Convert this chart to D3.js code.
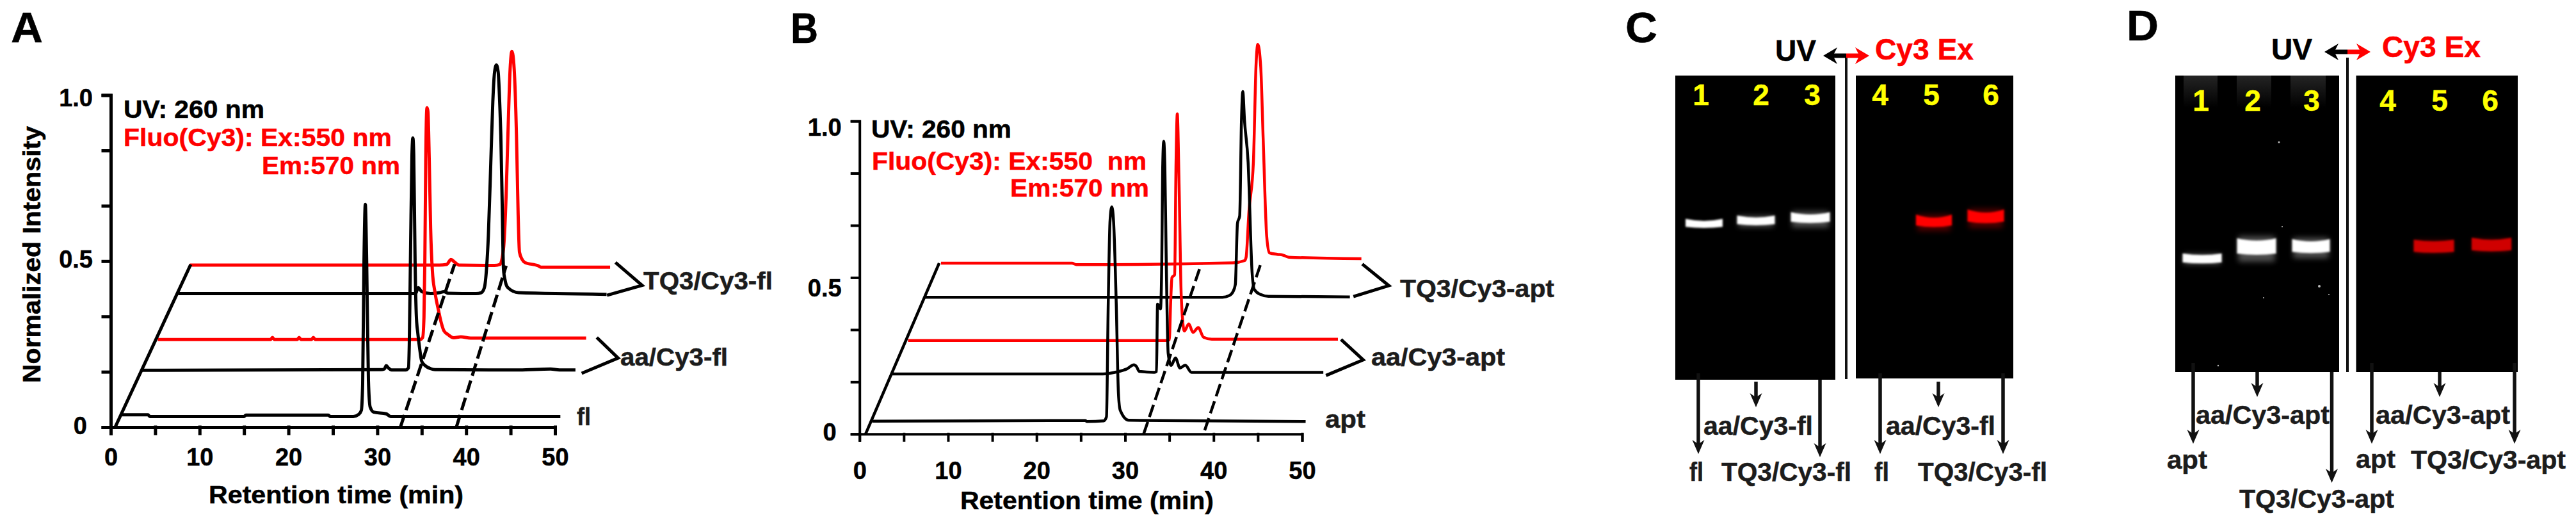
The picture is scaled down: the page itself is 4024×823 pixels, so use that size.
<!DOCTYPE html>
<html>
<head>
<meta charset="utf-8">
<script src="https://cdn.jsdelivr.net/npm/d3@7"></script>
<style>
html, body { margin: 0; padding: 0; background: #fff; }
text { font-family: "Liberation Sans", Arial, sans-serif; font-weight: bold; white-space: pre; stroke: currentColor; stroke-width: .5px; }
</style>
</head>
<body>
<svg id="figure" width="4024" height="823"></svg>
<script>
// chromatograms: [retention time (min), normalized intensity]
var aFl = [[1.06,.037],[4.2,.037],[4.4,.032],[15,.032],[15.2,.036],[24.5,.036],[24.7,.032],[27.3,.032],[27.9,.038],[28.2,.05],[28.35,.13],[28.5,.5],[28.65,.671],[28.8,.5],[29,.14],[29.2,.06],[29.6,.045],[31,.04],[31.5,.032],[50.6,.032]];
var aAaBlack = [[3.5,.171],[30.4,.173],[30.8,.175],[31,.185],[31.3,.177],[31.6,.172],[33.2,.172],[33.5,.178],[33.6,.25],[33.75,.55],[33.9,.82],[34,.871],[34.1,.82],[34.25,.5],[34.4,.33],[34.55,.285],[34.75,.24],[35,.198],[35.4,.185],[36,.176],[36.5,.173],[46,.172],[49.5,.175],[50.5,.172],[52.3,.172]];
var aAaRed = [[5.3,.264],[18,.264],[18.2,.27],[18.4,.264],[21,.264],[21.2,.27],[21.4,.264],[22.6,.264],[22.8,.27],[23,.264],[34.8,.264],[35.1,.27],[35.25,.33],[35.35,.5],[35.45,.8],[35.55,.95],[35.6,.962],[35.7,.95],[35.85,.8],[36,.6],[36.2,.47],[36.5,.405],[36.9,.35],[37.2,.314],[37.5,.29],[37.95,.279],[38.6,.269],[39.4,.272],[40.5,.268],[53.5,.268]];
var aTqBlack = [[7.6,.402],[34.3,.402],[34.6,.42],[35,.408],[36,.402],[37,.405],[37.5,.408],[38,.403],[41.1,.402],[41.7,.405],[42.05,.42],[42.3,.48],[42.5,.577],[42.8,.82],[43,.98],[43.2,1.07],[43.4,1.091],[43.6,1.07],[43.8,.96],[43.9,.88],[44.05,.68],[44.2,.476],[44.4,.44],[44.7,.42],[45.9,.405],[55.8,.4]];
var aTqRed = [[8.9,.488],[37,.488],[37.8,.49],[38.3,.505],[38.7,.497],[39.2,.488],[43.2,.487],[43.8,.49],[44.2,.537],[44.5,.7],[44.7,.881],[44.95,1.08],[45.15,1.132],[45.4,1.08],[45.66,.881],[45.85,.64],[46,.527],[46.3,.505],[46.6,.496],[48.1,.486],[48.4,.482],[56.2,.482]];

var bApt = [[1.43,.041],[25.5,.043],[25.7,.04],[27.6,.042],[27.9,.055],[28.1,.42],[28.3,.68],[28.5,.726],[28.7,.68],[29,.42],[29.25,.13],[29.45,.076],[30.4,.044],[50.4,.04]];
var bAaBlack = [[3.6,.192],[27.5,.192],[29,.198],[30.2,.208],[31,.221],[31.3,.215],[31.6,.2],[33.3,.197],[33.55,.2],[33.67,.415],[34,.4],[34.15,.555],[34.25,.85],[34.37,.935],[34.5,.85],[34.65,.555],[34.87,.258],[35.2,.219],[35.7,.243],[36.2,.211],[36.8,.22],[37.5,.197],[52.4,.197]];
var bAaRed = [[5.48,.299],[34.7,.299],[35,.301],[35.15,.42],[35.3,.5],[35.6,.509],[35.76,.869],[35.9,1.023],[36.1,.8],[36.35,.438],[36.7,.329],[37.2,.352],[37.67,.325],[38.27,.34],[38.87,.309],[39.8,.303],[54.05,.303]];
var bTqBlack = [[7.35,.437],[41,.437],[41.74,.442],[42.2,.455],[42.46,.478],[42.7,.673],[42.95,.697],[43.15,1],[43.3,1.094],[43.5,1],[43.9,.869],[44.35,.517],[44.6,.462],[45.2,.447],[46.2,.44],[55.4,.438]];
var bTqRed = [[9.2,.546],[24,.546],[24.5,.541],[42.2,.547],[43.5,.554],[43.67,.564],[44,.712],[44.5,.869],[44.8,1.18],[45,1.245],[45.33,1.172],[45.6,.947],[46,.633],[46.3,.579],[47.2,.574],[47.8,.572],[48.5,.565],[56.7,.56]];

// depth axis and peak guides
var aDepth = [[.5,0],[9,.49]];
var aGuide1 = [[32.6,0],[38.7,.491]];
var aGuide2 = [[38.9,0],[44.5,.486]];
var bDepth = [[.68,0],[9,.546]];
var bGuide1 = [[32.1,0],[38.6,.543]];
var bGuide2 = [[39,.012],[45.45,.554]];

// brackets joining the two traces of a sample
var aBracketTq = [[56.8,.496],[59.8,.427],[55.85,.397]];
var aBracketAa = [[54.7,.27],[57.1,.208],[53,.162]];
var bBracketTq = [[56.8,.543],[59.8,.474],[55.8,.439]];
var bBracketAa = [[54.4,.302],[56.9,.237],[52.7,.187]];

var timeTicks = [0,5,10,15,20,25,30,35,40,45,50];
var timeLabels = [0,10,20,30,40,50];
var intensityTicks = [0,1/6,2/6,3/6,4/6,5/6,1];
var intensityLabels = ["0","0.5","1.0"];

// gels: lane names and how far each band ran down the gel (0 top, 1 bottom)
var laneNames = ["1","2","3","4","5","6"];
var gelCLeftRun = [.488,.478,.469];
var gelCRightRun = [null,.482,.467];
var gelDLeftRun = [.618,.579,.577];
var gelDRightRun = [null,.577,.572];

var BLACK = "#000", RED = "#ff0000", INK = "#1c1c1c", YELLOW = "#ffff00";

var svg = d3.select("#figure");
var defs = svg.append("defs");
defs.append("filter").attr("id", "blurBand").attr("x", "-20%").attr("y", "-80%").attr("width", "140%").attr("height", "260%")
	.append("feGaussianBlur").attr("stdDeviation", 1.8);
defs.append("filter").attr("id", "blurGlow").attr("x", "-30%").attr("y", "-150%").attr("width", "160%").attr("height", "400%")
	.append("feGaussianBlur").attr("stdDeviation", 4);
var well = defs.append("linearGradient").attr("id", "wellFade").attr("x1", 0).attr("y1", 0).attr("x2", 0).attr("y2", 1);
well.append("stop").attr("offset", 0).attr("stop-color", "#5a5a5a");
well.append("stop").attr("offset", 1).attr("stop-color", "#000");

// width stretches the glyphs so the text spans what it spans in the figure
function label(g, str, x, y, size, color, width, rotate) {
	var t = g.append("text").attr("font-size", size).attr("fill", color).style("color", color).text(str);
	if (rotate) t.attr("transform", "translate(" + x + "," + y + ") rotate(-90)");
	else t.attr("x", x).attr("y", y);
	if (width) t.attr("textLength", width).attr("lengthAdjust", "spacingAndGlyphs");
	return t;
}

function drawChromatogram(p) {
	var g = svg.append("g");
	var x = d3.scaleLinear().domain([0, 50]).range(p.xRange);
	var y = d3.scaleLinear().domain([0, 1]).range(p.yRange);

	var trace = d3.line().x(function(d){return x(d[0]);}).y(function(d){return y(d[1]);}).curve(d3.curveMonotoneX);
	var straight = d3.line().x(function(d){return x(d[0]);}).y(function(d){return y(d[1]);});

	var xAxis = d3.axisBottom(x).tickValues(timeTicks).tickSizeOuter(0).tickSize(p.tick).tickPadding(p.xPad)
		.tickFormat(function(d){return timeLabels.indexOf(d) >= 0 ? d : "";});
	var yAxis = d3.axisLeft(y).tickValues(intensityTicks).tickSizeOuter(0).tickSize(p.tick + 2).tickPadding(p.yPad)
		.tickFormat(function(d){
			if (d === 0) return intensityLabels[0];
			if (d === 3/6) return intensityLabels[1];
			if (d === 1) return intensityLabels[2];
			return "";
		});

	[[xAxis, "translate(0," + p.yRange[0] + ")"], [yAxis, "translate(" + p.xRange[0] + ",0)"]].forEach(function(a){
		var ax = g.append("g").attr("transform", a[1]).call(a[0]);
		ax.selectAll("path,line").attr("stroke", BLACK).attr("stroke-width", p.axisWidth).attr("stroke-linecap", "square");
		ax.selectAll("text").attr("font-size", 38).attr("fill", BLACK).style("font-family", "Liberation Sans").style("font-weight", "bold");
	});
	// the printed labels sit a little off their ticks
	g.selectAll("text").filter(function(d){return d === 1;}).attr("transform", "translate(0," + p.nudge[2] + ")");
	g.selectAll("text").filter(function(d){return d === 3/6;}).attr("transform", "translate(0," + p.nudge[1] + ")");
	g.selectAll("text").filter(function(d){return d === 0 && +d3.select(this).attr("x") < 0;}).attr("transform", "translate(" + p.zeroDx + "," + p.nudge[0] + ")");

	p.traces.forEach(function(t){
		g.append("path").datum(t[0]).attr("d", trace).attr("fill", "none")
			.attr("stroke", t[1]).attr("stroke-width", p.lineWidth).attr("stroke-linejoin", "round");
	});
	g.append("path").datum(p.depth).attr("d", straight).attr("stroke", BLACK).attr("stroke-width", p.lineWidth);
	p.guides.forEach(function(d){
		g.append("path").datum(d).attr("d", straight).attr("stroke", BLACK)
			.attr("stroke-width", p.lineWidth).attr("stroke-dasharray", "20,8");
	});
	p.brackets.forEach(function(d){
		g.append("path").datum(d).attr("d", straight).attr("fill", "none").attr("stroke", BLACK).attr("stroke-width", 5);
	});

	p.texts.forEach(function(t){ label(g, t[0], t[1], t[2], t[3], t[4], t[5], t[6]); });
}

drawChromatogram({
	xRange: [173, 867], yRange: [667, 148.6], tick: 10, xPad: 23, yPad: 16, axisWidth: 5, lineWidth: 5,
	nudge: [-2, -2, 5], zeroDx: -9,
	traces: [[aTqRed, RED], [aTqBlack, BLACK], [aAaRed, RED], [aAaBlack, BLACK], [aFl, BLACK]],
	depth: aDepth, guides: [aGuide1, aGuide2], brackets: [aBracketTq, aBracketAa],
	texts: [
		["A", 17, 66, 66, BLACK, 50],
		["UV: 260 nm", 193, 184, 38, BLACK, 220],
		["Fluo(Cy3): Ex:550 nm", 193, 228, 38, RED, 419],
		["Em:570 nm", 409, 272, 38, RED, 216],
		["Retention time (min)", 326, 786, 38, BLACK, 398],
		["Normalized Intensity", 63, 598, 38, BLACK, 401, true],
		["fl", 901, 664, 38, INK, 22],
		["aa/Cy3-fl", 969, 571, 38, INK, 168],
		["TQ3/Cy3-fl", 1005, 452, 38, INK, 202]
	]
});

drawChromatogram({
	xRange: [1342.7, 2034], yRange: [677.8, 189], tick: 10, xPad: 33, yPad: 16, axisWidth: 4, lineWidth: 4.5,
	nudge: [-2, 17, 10], zeroDx: -8,
	traces: [[bTqRed, RED], [bTqBlack, BLACK], [bAaRed, RED], [bAaBlack, BLACK], [bApt, BLACK]],
	depth: bDepth, guides: [bGuide1, bGuide2], brackets: [bBracketTq, bBracketAa],
	texts: [
		["B", 1235, 67, 66, BLACK, 43],
		["UV: 260 nm", 1361, 215, 38, BLACK, 219],
		["Fluo(Cy3): Ex:550  nm", 1362, 265, 38, RED, 429],
		["Em:570 nm", 1578, 307, 38, RED, 217],
		["Retention time (min)", 1500, 795, 38, BLACK, 396],
		["apt", 2070, 668, 38, INK, 63],
		["aa/Cy3-apt", 2142, 571, 38, INK, 209],
		["TQ3/Cy3-apt", 2187, 464, 38, INK, 241]
	]
});

// arrow with a notched head, from (x1,y1) to the tip at (x2,y2)
function arrow(g, x1, y1, x2, y2, color, thick, headLen, headHalf) {
	var a = Math.atan2(y2 - y1, x2 - x1), c = Math.cos(a), s = Math.sin(a);
	var bx = x2 - c * headLen, by = y2 - s * headLen;
	g.append("line").attr("x1", x1).attr("y1", y1).attr("x2", x2 - c * headLen * .6).attr("y2", y2 - s * headLen * .6)
		.attr("stroke", color).attr("stroke-width", thick);
	g.append("path").attr("fill", color).attr("d", d3.line()([
		[x2, y2],
		[bx - s * headHalf, by + c * headHalf],
		[x2 - c * headLen * .7, y2 - s * headLen * .7],
		[bx + s * headHalf, by - c * headHalf]
	]) + "Z");
}

// one band: a slightly smiling bar, softened, with an optional trail of glow
function drawBand(g, cx, cy, w, h, color, smile, glow) {
	if (glow) {
		g.append("rect").attr("x", cx - w / 2 + 2).attr("y", cy - h / 2 - glow * .35).attr("width", w - 4).attr("height", h + glow)
			.attr("fill", color).attr("opacity", .3).attr("filter", "url(#blurGlow)");
	}
	var x0 = cx - w / 2, x1 = cx + w / 2;
	g.append("path").attr("fill", color).attr("filter", "url(#blurBand)")
		.attr("d", "M" + x0 + "," + (cy - h / 2 - smile) +
			"Q" + cx + "," + (cy - h / 2 + smile * 1.5) + " " + x1 + "," + (cy - h / 2 - smile) +
			"L" + x1 + "," + (cy + h / 2 - 1) +
			"Q" + cx + "," + (cy + h / 2 + smile) + " " + x0 + "," + (cy + h / 2 - 1) + "Z");
}

function drawGel(p) {
	var g = svg.append("g");
	[p.left, p.right].forEach(function(side, s){
		var run = d3.scaleLinear().domain([0, 1]).range([side.top, side.bottom]);
		g.append("rect").attr("x", side.x).attr("y", side.top).attr("width", side.w).attr("height", side.bottom - side.top).attr("fill", BLACK);
		(side.wells || []).forEach(function(w){
			g.append("rect").attr("x", w[0]).attr("y", side.top).attr("width", w[1]).attr("height", 50).attr("fill", "url(#wellFade)").attr("opacity", .4);
		});
		(side.specks || []).forEach(function(d){
			g.append("circle").attr("cx", d[0]).attr("cy", d[1]).attr("r", d[2]).attr("fill", "#bbb");
		});
		side.run.forEach(function(r, i){
			if (r === null) return;
			var b = side.bands[i];
			drawBand(g, b[0], run(r), b[1], b[2], side.color, b[3], b[4]);
		});
		side.lanes.forEach(function(x, i){
			g.append("text").attr("x", x).attr("y", p.laneY).attr("text-anchor", "middle").attr("font-size", 46)
				.attr("fill", YELLOW).style("color", YELLOW).text(laneNames[i + s * 3]);
		});
	});
	g.append("line").attr("x1", p.sepX).attr("x2", p.sepX).attr("y1", p.sepTop).attr("y2", p.sepBottom).attr("stroke", "#111").attr("stroke-width", 4);
	arrow(g, p.sepX, p.arrowY, p.sepX - 36, p.arrowY, BLACK, 7, 22, 13);
	arrow(g, p.sepX, p.arrowY, p.sepX + 36, p.arrowY, RED, 7, 22, 13);
	p.arrows.forEach(function(a){ arrow(g, a[0], a[1], a[0], a[2], "#111", 5.5, 22, 9.5); });
	p.texts.forEach(function(t){ label(g, t[0], t[1], t[2], t[3], t[4], t[5]); });
}

drawGel({
	laneY: 164, sepX: 2884, sepTop: 87, sepBottom: 592, arrowY: 87,
	left: {
		x: 2617, w: 250, top: 118, bottom: 593, color: "#fff", run: gelCLeftRun,
		lanes: [2657, 2751, 2831],
		bands: [[2662, 58, 11, 2.5, 0], [2743, 59, 12, 2.5, 5], [2828, 61, 13, 3, 12]]
	},
	right: {
		x: 2899, w: 246, top: 118, bottom: 591, color: RED, run: gelCRightRun,
		lanes: [2937, 3017, 3110],
		bands: [null, [3021, 56, 14, 4, 12], [3102, 57, 16, 4, 14]]
	},
	arrows: [[2653, 583, 709], [2743, 596, 636], [2843, 593, 714], [2937, 583, 709], [3028, 596, 636], [3129, 583, 709]],
	texts: [
		["C", 2539, 66, 66, BLACK, 50],
		["UV", 2773, 95, 46, BLACK, 64],
		["Cy3 Ex", 2929, 93, 46, RED, 154],
		["aa/Cy3-fl", 2661, 679, 41, INK, 171],
		["fl", 2639, 751, 41, INK, 22],
		["TQ3/Cy3-fl", 2689, 751, 41, INK, 203],
		["aa/Cy3-fl", 2946, 679, 41, INK, 171],
		["fl", 2928, 751, 41, INK, 23],
		["TQ3/Cy3-fl", 2996, 751, 41, INK, 202]
	]
});

drawGel({
	laneY: 173, sepX: 3667, sepTop: 90, sepBottom: 581, arrowY: 81,
	left: {
		x: 3398, w: 256, top: 118, bottom: 581, color: "#fff", run: gelDLeftRun,
		lanes: [3438, 3519, 3611],
		wells: [[3411, 53], [3494, 54], [3578, 55]],
		specks: [[3560, 222, 1.5], [3623, 447, 2], [3536, 465, 1], [3638, 460, 1], [3465, 571, 1.2], [3565, 354, 1]],
		bands: [[3440, 61, 13, 2, 3], [3525, 61, 22, 3, 18], [3610, 59, 18, 3, 14]]
	},
	right: {
		x: 3680.5, w: 252.5, top: 118, bottom: 581, color: "#d00000", run: gelDRightRun,
		lanes: [3730, 3811, 3890],
		bands: [null, [3802, 63, 18, 2, 2], [3892, 62, 18, 2.5, 2]]
	},
	arrows: [[3426, 567, 693], [3526, 581, 620], [3642.5, 581, 754], [3705, 567, 693], [3811, 581, 620], [3928, 567, 693]],
	texts: [
		["D", 3322, 63, 66, BLACK, 50],
		["UV", 3548, 93, 46, BLACK, 64],
		["Cy3 Ex", 3721, 89, 46, RED, 154],
		["aa/Cy3-apt", 3430, 662, 41, INK, 209],
		["apt", 3385, 732, 41, INK, 63],
		["aa/Cy3-apt", 3711, 662, 41, INK, 210],
		["apt", 3680, 731, 41, INK, 62],
		["TQ3/Cy3-apt", 3766, 732, 41, INK, 242],
		["TQ3/Cy3-apt", 3498, 793, 41, INK, 242]
	]
});
</script>
</body>
</html>
